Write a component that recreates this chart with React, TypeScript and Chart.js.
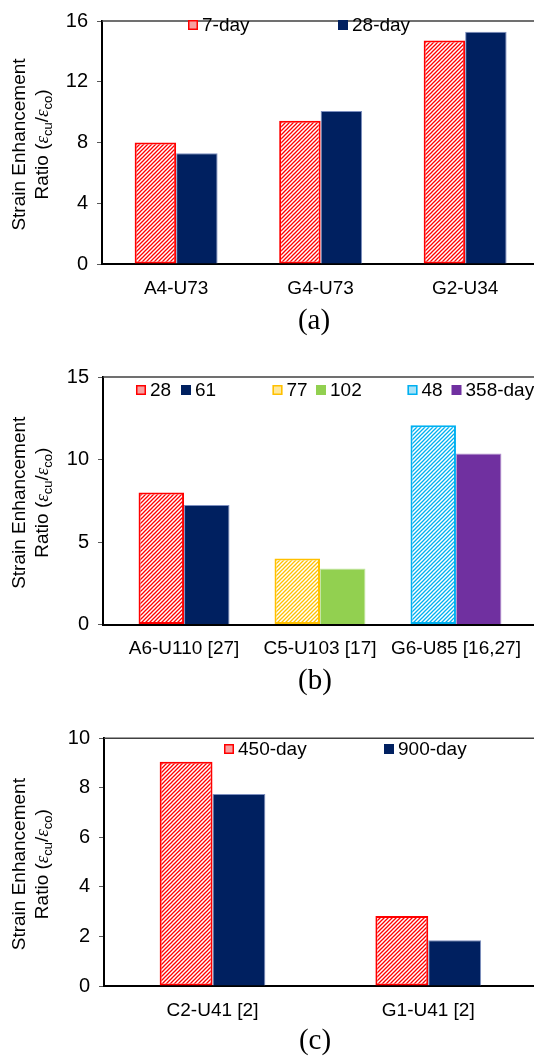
import React, { useEffect, useRef } from 'react';
import { Chart, registerables } from 'chart.js';

Chart.register(...registerables);

// ---------- Data: chart (a) ----------
const catsA = ['A4-U73', 'G4-U73', 'G2-U34'];
const seriesA_7day = [8.0, 9.43, 14.72];
const seriesA_28day = [7.3, 10.07, 15.3];
const yTicksA = [0, 4, 8, 12, 16];

// ---------- Data: chart (b) ----------
const catsB = ['A6-U110 [27]', 'C5-U103 [17]', 'G6-U85 [16,27]'];
const seriesB_28 = [8.0, null, null];
const seriesB_61 = [7.25, null, null];
const seriesB_77 = [null, 4.0, null];
const seriesB_102 = [null, 3.4, null];
const seriesB_48 = [null, null, 12.08];
const seriesB_358day = [null, null, 10.37];
const yTicksB = [0, 5, 10, 15];

// ---------- Data: chart (c) ----------
const catsC = ['C2-U41 [2]', 'G1-U41 [2]'];
const seriesC_450day = [9.05, 2.83];
const seriesC_900day = [7.75, 1.85];
const yTicksC = [0, 2, 4, 6, 8, 10];

// ---------- Styles / layout ----------
const SANS = '"Liberation Sans", Arial, Helvetica, sans-serif';
const SERIF = '"Liberation Serif", "Times New Roman", serif';
const CW = 540;

type Style = { kind: 'hatch' | 'solid'; color: string; edge: string; swatch: string };
const RED_HATCH: Style = { kind: 'hatch', color: '#ff0000', edge: '#ff0000', swatch: '#f6a0a0' };
const NAVY: Style = { kind: 'solid', color: '#002060', edge: '#7d8fbf', swatch: '#002060' };
const GOLD_HATCH: Style = { kind: 'hatch', color: '#ffc000', edge: '#ffc000', swatch: '#ffe89a' };
const GREEN: Style = { kind: 'solid', color: '#92d050', edge: '#c4e6a4', swatch: '#92d050' };
const CYAN_HATCH: Style = { kind: 'hatch', color: '#00b0f0', edge: '#00b0f0', swatch: '#a6e2f8' };
const PURPLE: Style = { kind: 'solid', color: '#7030a0', edge: '#b595cf', swatch: '#7030a0' };

type Series = { label: string; values: (number | null)[]; style: Style };

type Spec = {
  cats: string[];
  series: Series[];
  yTicks: number[];
  caption: string;
  top: number;
  height: number;
  plotTop: number;
  plotBottom: number;
  plotLeft: number;
  xMin: number;
  xMax: number;
  catPct: number;
  legendBoxX: number[];
  legendCy: number;
  captionX: number;
  captionY: number;
};

const specs: Spec[] = [
  {
    cats: catsA,
    series: [
      { label: '7-day', values: seriesA_7day, style: RED_HATCH },
      { label: '28-day', values: seriesA_28day, style: NAVY },
    ],
    yTicks: yTicksA,
    caption: '(a)',
    top: 0,
    height: 350,
    plotTop: 14,
    plotBottom: 264,
    plotLeft: 102,
    xMin: -0.513,
    xMax: 2.518,
    catPct: 0.574,
    legendBoxX: [188, 338],
    legendCy: 25,
    captionX: 314,
    captionY: 321,
  },
  {
    cats: catsB,
    series: [
      { label: '28', values: seriesB_28, style: RED_HATCH },
      { label: '61', values: seriesB_61, style: NAVY },
      { label: '77', values: seriesB_77, style: GOLD_HATCH },
      { label: '102', values: seriesB_102, style: GREEN },
      { label: '48', values: seriesB_48, style: CYAN_HATCH },
      { label: '358-day', values: seriesB_358day, style: PURPLE },
    ],
    yTicks: yTicksB,
    caption: '(b)',
    top: 352,
    height: 356,
    plotTop: 377,
    plotBottom: 624.5,
    plotLeft: 103,
    xMin: -0.596,
    xMax: 2.618,
    catPct: 0.669,
    legendBoxX: [136, 181, 272.5, 316, 407.5, 451.5],
    legendCy: 390,
    captionX: 315,
    captionY: 681,
  },
  {
    cats: catsC,
    series: [
      { label: '450-day', values: seriesC_450day, style: RED_HATCH },
      { label: '900-day', values: seriesC_900day, style: NAVY },
    ],
    yTicks: yTicksC,
    caption: '(c)',
    top: 710,
    height: 349,
    plotTop: 738.3,
    plotBottom: 986,
    plotLeft: 104,
    xMin: -0.503,
    xMax: 1.518,
    catPct: 0.49,
    legendBoxX: [224, 384],
    legendCy: 749,
    captionX: 315,
    captionY: 1041,
  },
];

function hatch(color: string): CanvasPattern | string {
  const s = 4;
  const c = document.createElement('canvas');
  c.width = s;
  c.height = s;
  const g = c.getContext('2d');
  if (!g) return color;
  g.fillStyle = '#ffffff';
  g.fillRect(0, 0, s, s);
  g.strokeStyle = color;
  g.lineWidth = 1.3;
  g.beginPath();
  g.moveTo(0, s);
  g.lineTo(s, 0);
  g.moveTo(-1, 1);
  g.lineTo(1, -1);
  g.moveTo(s - 1, s + 1);
  g.lineTo(s + 1, s - 1);
  g.stroke();
  return g.createPattern(c, 'repeat') || color;
}

function drawRichRotated(ctx: CanvasRenderingContext2D, cx: number, cy: number, runs: { t: string; f: string; dy: number }[]) {
  ctx.save();
  ctx.translate(cx, cy);
  ctx.rotate(-Math.PI / 2);
  ctx.textBaseline = 'alphabetic';
  ctx.textAlign = 'left';
  let total = 0;
  for (const r of runs) {
    ctx.font = r.f;
    total += ctx.measureText(r.t).width;
  }
  let x = -total / 2;
  for (const r of runs) {
    ctx.font = r.f;
    ctx.fillText(r.t, x, r.dy);
    x += ctx.measureText(r.t).width;
  }
  ctx.restore();
}

function makeDecor(spec: Spec) {
  return {
    id: 'decor' + spec.caption,
    afterDraw(chart: any) {
      const ctx: CanvasRenderingContext2D = chart.ctx;
      const area = chart.chartArea;
      const off = spec.top;
      // top frame line
      ctx.save();
      ctx.strokeStyle = '#404040';
      ctx.lineWidth = 1.5;
      ctx.beginPath();
      ctx.moveTo(area.left, area.top);
      ctx.lineTo(chart.width, area.top);
      ctx.stroke();
      ctx.restore();

      // y title
      const cy = (area.top + area.bottom) / 2 + 2;
      ctx.save();
      ctx.fillStyle = '#000';
      drawRichRotated(ctx, 25, cy, [{ t: 'Strain Enhancement', f: `19px ${SANS}`, dy: 0 }]);
      drawRichRotated(ctx, 47.5, cy, [
        { t: 'Ratio (', f: `19px ${SANS}`, dy: 0 },
        { t: 'ε', f: `italic 19px ${SERIF}`, dy: 0 },
        { t: 'cu', f: `13px ${SANS}`, dy: 4 },
        { t: '/', f: `19px ${SANS}`, dy: 0 },
        { t: 'ε', f: `italic 19px ${SERIF}`, dy: 0 },
        { t: 'co', f: `13px ${SANS}`, dy: 4 },
        { t: ')', f: `19px ${SANS}`, dy: 0 },
      ]);
      ctx.restore();

      // legend
      ctx.save();
      spec.series.forEach((s, i) => {
        const bx = spec.legendBoxX[i];
        const by = spec.legendCy - off - 5;
        ctx.fillStyle = s.style.swatch;
        ctx.fillRect(bx, by, 10, 10);
        if (s.style.kind === 'hatch') {
          ctx.strokeStyle = s.style.color;
          ctx.lineWidth = 1.5;
          ctx.strokeRect(bx + 0.75, by + 0.75, 8.5, 8.5);
        }
        ctx.fillStyle = '#000';
        ctx.font = `19px ${SANS}`;
        ctx.textBaseline = 'alphabetic';
        ctx.textAlign = 'left';
        ctx.fillText(s.label, bx + 14, by + 11);
      });
      ctx.restore();

      // caption
      ctx.save();
      ctx.fillStyle = '#000';
      ctx.font = `29px ${SERIF}`;
      ctx.textAlign = 'center';
      ctx.textBaseline = 'middle';
      ctx.fillText(spec.caption, spec.captionX, spec.captionY - off);
      ctx.restore();
    },
  };
}

function buildConfig(spec: Spec): any {
  const off = spec.top;
  const datasets = spec.series.map((s) => {
    const isHatch = s.style.kind === 'hatch';
    return {
      label: s.label,
      data: s.values.map((v, i) => ({ x: i, y: v })),
      backgroundColor: isHatch ? hatch(s.style.color) : s.style.color,
      borderColor: s.style.edge,
      borderWidth: isHatch ? 2 : 1,
      borderSkipped: isHatch ? false : 'start',
      skipNull: true,
      categoryPercentage: spec.catPct,
      barPercentage: 1,
    };
  });
  return {
    type: 'bar',
    data: { datasets },
    options: {
      animation: false,
      responsive: false,
      devicePixelRatio: 1,
      events: [],
      layout: { padding: { top: spec.plotTop - off, left: 0, right: 0, bottom: 0 } },
      plugins: {
        legend: { display: false },
        tooltip: { enabled: false },
        title: { display: false },
      },
      scales: {
        x: {
          type: 'linear',
          offset: false,
          min: spec.xMin,
          max: spec.xMax,
          afterBuildTicks: (scale: any) => {
            scale.ticks = spec.cats.map((_, i) => ({ value: i }));
          },
          afterFit: (scale: any) => {
            scale.height = spec.height - (spec.plotBottom - off);
          },
          ticks: {
            autoSkip: false,
            maxRotation: 0,
            minRotation: 0,
            padding: 13,
            color: '#000',
            font: { family: SANS, size: 19 },
            callback: (v: number) => spec.cats[v] ?? '',
          },
          grid: { display: false, drawTicks: false, offset: false },
          border: { display: true, color: '#000', width: 2 },
        },
        y: {
          min: spec.yTicks[0],
          max: spec.yTicks[spec.yTicks.length - 1],
          afterBuildTicks: (scale: any) => {
            scale.ticks = spec.yTicks.map((v) => ({ value: v }));
          },
          afterFit: (scale: any) => {
            scale.width = spec.plotLeft;
          },
          ticks: {
            padding: 9,
            color: '#000',
            font: { family: SANS, size: 20 },
          },
          grid: {
            drawOnChartArea: false,
            drawTicks: true,
            tickLength: 5,
            color: '#595959',
            lineWidth: 1,
          },
          border: { display: true, color: '#000', width: 2 },
        },
      },
    },
    plugins: [makeDecor(spec)],
  };
}

function Panel({ spec }: { spec: Spec }) {
  const ref = useRef<HTMLCanvasElement>(null);
  useEffect(() => {
    const canvas = ref.current;
    if (!canvas) return;
    const chart = new Chart(canvas, buildConfig(spec));
    return () => chart.destroy();
  }, [spec]);
  return (
    <canvas
      ref={ref}
      width={CW}
      height={spec.height}
      style={{ position: 'absolute', left: 0, top: spec.top, width: CW, height: spec.height, display: 'block' }}
    />
  );
}

export default function App() {
  return (
    <div
      style={{
        position: 'absolute',
        left: 0,
        top: 0,
        width: 534,
        height: 1059,
        overflow: 'hidden',
        background: '#fff',
      }}
    >
      {specs.map((s) => (
        <Panel key={s.caption} spec={s} />
      ))}
    </div>
  );
}
